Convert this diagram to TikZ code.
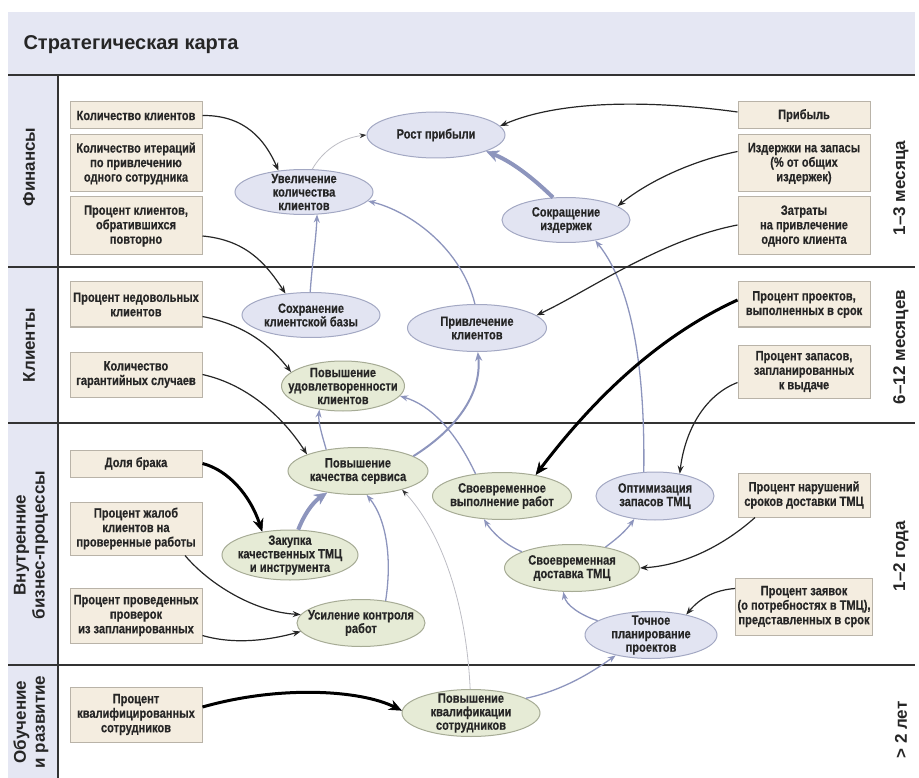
\documentclass[tikz,border=0pt]{standalone}
\usepackage{fontspec}
\setmainfont{Liberation Sans}
\newfontfamily\condf[FakeStretch=0.82, BoldFeatures={FakeBold=0.4}]{Liberation Sans}
\usetikzlibrary{shapes.geometric,arrows.meta}
\definecolor{band}{HTML}{E5E7F3}
\definecolor{boxfill}{HTML}{F4EDE0}
\definecolor{boxline}{HTML}{B9B3A8}
\definecolor{bfill}{HTML}{E2E4F2}
\definecolor{bline}{HTML}{A3A8C3}
\definecolor{gfill}{HTML}{E6EBD6}
\definecolor{gline}{HTML}{A6AB95}
\definecolor{bluc}{HTML}{8D95BD}
\definecolor{grayc}{HTML}{BDBDC4}
\definecolor{txt}{HTML}{262626}
\definecolor{rule}{HTML}{333333}
\tikzset{
  nfont/.style={font=\condf\bfseries\fontsize{13.5}{14.5}\selectfont, text=txt},
  efont/.style={font=\condf\bfseries\fontsize{13.5}{13.5}\selectfont, text=txt},
  box/.style={nfont, draw=boxline, fill=boxfill, line width=1pt, minimum width=132pt, inner sep=2pt, align=center},
  bell/.style={ellipse, draw=bline, fill=bfill, line width=1pt, inner sep=0pt},
  gell/.style={ellipse, draw=gline, fill=gfill, line width=1pt, inner sep=0pt},
  etext/.style={efont, align=center, inner sep=0pt},
  rowlab/.style={font=\bfseries\fontsize{17}{19}\selectfont, text=txt, rotate=90, align=center},
  blk/.style={draw=black!85, line width=1.2pt, -{Stealth[length=8pt,width=6pt]}},
  blkT/.style={draw=black, line width=3pt, -{Stealth[length=13pt,width=11pt,line width=0.5pt]}},
  blu/.style={draw=bluc, line width=1.3pt, -{Stealth[length=8pt,width=6pt]}},
  bluM/.style={draw=bluc, line width=2pt, -{Stealth[length=9pt,width=7pt]}},
  bluT/.style={draw=bluc, line width=4pt, -{Stealth[length=13pt,width=12pt,line width=0.5pt]}},
  gry/.style={draw=grayc, line width=0.8pt, -{Stealth[length=7pt,width=5pt,color=black!80]}},
}
\newcommand\EN[7]{%
  \node[#2, minimum width=#5pt, minimum height=#6pt] (#1) at (#3,-#4) {};
  \node[etext] (#1-t) at (#1.center) {#7};}
\begin{document}
\begin{tikzpicture}[x=1pt,y=1pt]
\useasboundingbox (0,0) rectangle (919,-778);
% background bands
\fill[band] (8,-12) rectangle (915,-75);
\fill[band] (8,-75) rectangle (58,-778);
\node[anchor=west, font=\bfseries\fontsize{20}{22}\selectfont, text=txt] (title) at (20,-45) {Стратегическая карта};
\draw[rule, line width=2pt] (8,-75) -- (915,-75);
\draw[rule, line width=1.6pt] (8,-267) -- (915,-267);
\draw[rule, line width=1.6pt] (8,-423) -- (915,-423);
\draw[rule, line width=1.6pt] (8,-665) -- (915,-665);
\draw[rule, line width=2pt] (58,-75) -- (58,-778);
% row labels
\node[rowlab] (l1) at (29,-167) {Финансы};
\node[rowlab] (l2) at (29,-345) {Клиенты};
\node[rowlab] (l3) at (31,-545) {Внутренние\\бизнес-процессы};
\node[rowlab] (l4) at (31,-722) {Обучение\\и развитие};
\node[rowlab] (t1) at (901,-188) {1–3 месяца};
\node[rowlab] (t2) at (901,-347) {6–12 месяцев};
\node[rowlab] (t3) at (901,-556) {1–2 года};
\node[rowlab] (t4) at (901,-730) {> 2 лет};
% left boxes
\node[box, minimum height=27pt] (b1) at (136,-115.5) {Количество клиентов};
\node[box, minimum height=57pt] (b2) at (136,-163.5) {Количество итераций\\по привлечению\\одного сотрудника};
\node[box, minimum height=58pt] (b3) at (136,-226) {Процент клиентов,\\обратившихся\\повторно};
\node[box, minimum height=45pt] (b4) at (136,-304.5) {Процент недовольных\\клиентов};
\node[box, minimum height=45pt] (b5) at (136,-374.5) {Количество\\гарантийных случаев};
\node[box, minimum height=27pt] (b6) at (136,-463.5) {Доля брака};
\node[box, minimum height=53pt] (b7) at (136,-528.5) {Процент жалоб\\клиентов на\\проверенные работы};
\node[box, minimum height=55pt] (b8) at (136,-615.5) {Процент проведенных\\проверок\\из запланированных};
\node[box, minimum height=55pt] (b9) at (136,-714.5) {Процент\\квалифицированных\\сотрудников};
% right boxes
\node[box, minimum height=27pt] (r1) at (804,-115.5) {Прибыль};
\node[box, minimum height=57pt] (r2) at (804,-163.5) {Издержки на запасы\\(\% от общих\\издержек)};
\node[box, minimum height=58pt] (r3) at (804,-226) {Затраты\\на привлечение\\одного клиента};
\node[box, minimum height=45pt] (r4) at (804,-304.5) {Процент проектов,\\выполненных в срок};
\node[box, minimum height=53pt] (r5) at (804,-371.5) {Процент запасов,\\запланированных\\к выдаче};
\node[box, minimum height=44pt] (r6) at (804,-495) {Процент нарушений\\сроков доставки ТМЦ};
\node[box, minimum height=57pt] (r7) at (804,-606.5) {Процент заявок\\(о потребностях в ТМЦ),\\представленных в срок};
% ellipses
\EN{rp}{bell}{436}{135}{138}{46}{Рост прибыли}
\EN{uk}{bell}{304}{192}{138}{45}{Увеличение\\количества\\клиентов}
\EN{si}{bell}{566}{220}{128}{45}{Сокращение\\издержек}
\EN{sk}{bell}{311}{315}{138}{45}{Сохранение\\клиентской базы}
\EN{pk}{bell}{477}{328}{139}{47}{Привлечение\\клиентов}
\EN{pu}{gell}{343}{386}{123}{50}{Повышение\\удовлетворенности\\клиентов}
\EN{pks}{gell}{358}{471}{140}{47}{Повышение\\качества сервиса}
\EN{svr}{gell}{502}{496}{139}{47}{Своевременное\\выполнение работ}
\EN{oz}{bell}{655}{496}{118}{48}{Оптимизация\\запасов ТМЦ}
\EN{zak}{gell}{290}{555}{136}{50}{Закупка\\качественных ТМЦ\\и инструмента}
\EN{sd}{gell}{572}{568}{135}{47}{Своевременная\\доставка ТМЦ}
\EN{uc}{gell}{361}{623}{128}{47}{Усиление контроля\\работ}
\EN{tp}{bell}{651}{635}{132}{47}{Точное\\планирование\\проектов}
\EN{pq}{gell}{471}{713}{138}{47}{Повышение\\квалификации\\сотрудников}
% blue / grey connectors
\draw[gry] (uk.70) .. controls (322,-152) and (340,-138) .. (rp.180);
\draw[bluT] (si.120) .. controls (537,-182) and (515,-163) .. (rp.342);
\draw[blu] (sk.92) .. controls (312,-265) and (316,-240) .. (uk.300);
\draw[blu] (pk.95) .. controls (462,-250) and (412,-212) .. (uk.352);
\draw[blu] (oz.115) .. controls (645,-380) and (635,-290) .. (si.325);
\draw[blu] (pks.146) .. controls (322,-435) and (318,-422) .. (pu.225);
\draw[bluM] (pks.15) .. controls (455,-430) and (482,-395) .. (pk.272);
\draw[blu] (svr.140) .. controls (455,-430) and (430,-405) .. (pu.350);
\draw[bluT] (zak.72) .. controls (304,-515) and (312,-503) .. (pks.215);
\draw[blu] (uc.42) .. controls (392,-560) and (387,-520) .. (pks.290);
\draw[gry] (pq.92) .. controls (466,-600) and (440,-530) .. (pks.337);
\draw[blu] (sd.162) .. controls (505,-545) and (492,-532) .. (svr.232);
\draw[blu] (sd.32) .. controls (615,-540) and (625,-532) .. (oz.228);
\draw[blu] (tp.165) .. controls (580,-615) and (566,-605) .. (sd.250);
\draw[blu] (pq.15) .. controls (565,-690) and (595,-670) .. (tp.210);
% black connectors
\draw[blk] (b1.east) .. controls (245,-115) and (265,-140) .. (uk.140);
\draw[blk] ([yshift=-10pt]b3.east) .. controls (245,-240) and (265,-262) .. (sk.140);
\draw[blk] ([yshift=-12pt]b4.east) .. controls (245,-325) and (270,-345) .. (pu.165);
\draw[blk] (b5.east) .. controls (250,-385) and (285,-420) .. (pks.162);
\draw[blkT] (b6.east) .. controls (228,-470) and (250,-495) .. (zak.140);
\draw[blk] ([xshift=49pt]b7.south) .. controls (210,-585) and (255,-612) .. (uc.172);
\draw[blk] ([yshift=-20pt]b8.east) .. controls (235,-645) and (270,-640) .. (uc.188);
\draw[blkT] ([yshift=7.5pt]b9.east) .. controls (280,-685) and (360,-690) .. (pq.178);
\draw[blk] ([yshift=3.5pt]r1.west) .. controls (650,-100) and (560,-100) .. (rp.8);
\draw[blk] ([yshift=12pt]r2.west) .. controls (695,-160) and (650,-180) .. (si.15);
\draw[blk] ([yshift=1pt]r3.west) .. controls (660,-240) and (590,-290) .. (pk.12);
\draw[blkT] ([yshift=4.5pt]r4.west) .. controls (650,-340) and (585,-410) .. (svr.32);
\draw[blk] ([yshift=-11pt]r5.west) .. controls (705,-395) and (685,-430) .. (oz.42);
\draw[blk] ([xshift=-49pt]r6.south) .. controls (730,-540) and (690,-565) .. (sd.0);
\draw[blk] ([yshift=18pt]r7.west) .. controls (715,-590) and (700,-598) .. (tp.30);
\end{tikzpicture}
\end{document}
